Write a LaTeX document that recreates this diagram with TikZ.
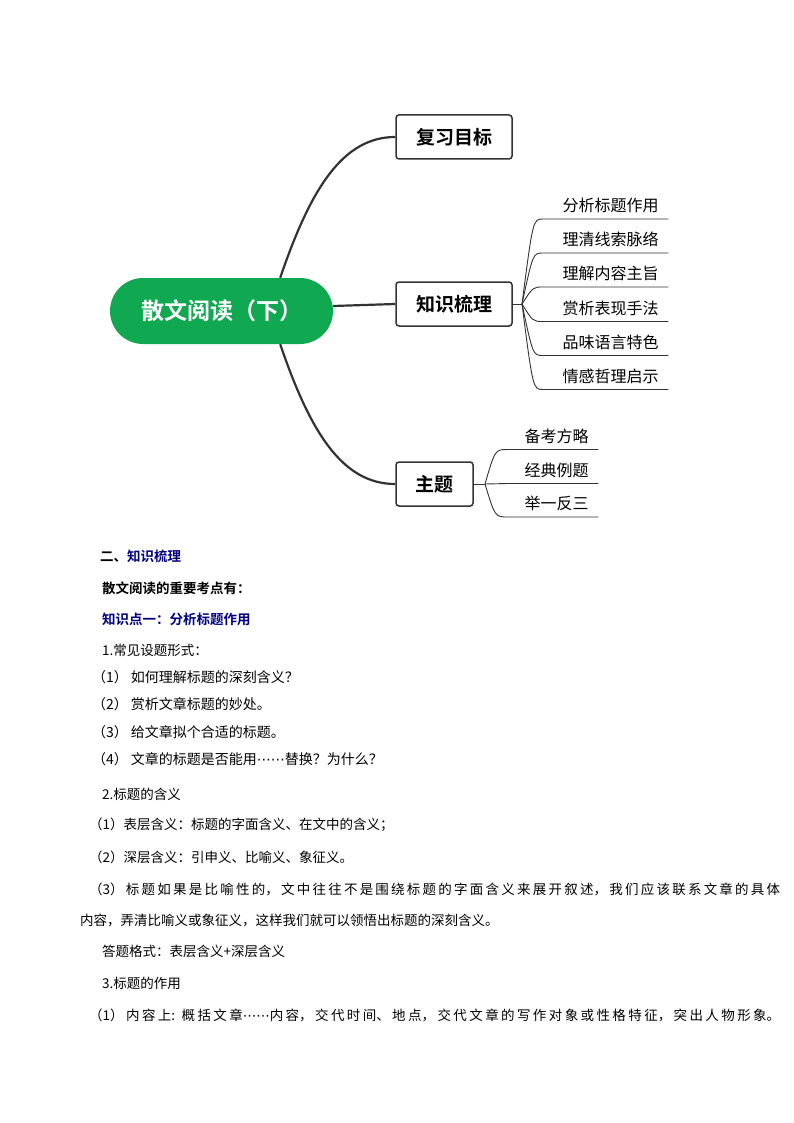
\documentclass[tikz,border=0pt]{standalone}
\usepackage{fontspec}
\setmainfont{Noto Sans CJK SC}[BoldFont={Noto Sans CJK SC Bold}]
\newfontfamily\dotfont{DejaVu Sans}
\newcommand{\cjkdots}{{\dotfont ⋯⋯}}
\XeTeXlinebreaklocale "zh"
\XeTeXlinebreakskip=0pt plus 3pt
\definecolor{rootgreen}{RGB}{16,168,80}
\definecolor{headblue}{RGB}{0,0,128}
\definecolor{inkgray}{RGB}{51,51,51}
\tikzset{
	topic/.style={draw=inkgray, line width=1.5pt, rounded corners=3pt, fill=white, minimum height=44pt, inner xsep=0pt, font=\fontsize{19}{22}\selectfont\bfseries},
	limb/.style={draw=inkgray, line width=2.2pt},
	twig/.style={draw=inkgray, line width=0.9pt},
	leaf/.style={anchor=south west, inner xsep=0pt, inner ysep=4pt, text height=14pt, text depth=3pt, font=\fontsize{16}{19}\selectfont},
	para/.style={anchor=west, inner sep=0pt, font=\fontsize{13.5}{16}\selectfont},
	parab/.style={para, font=\fontsize{13.5}{16}\selectfont\bfseries},
	parac/.style={para, font=\fontsize{14}{16}\selectfont},
}
\begin{document}
\begin{tikzpicture}[x=1pt, y=-1pt]
		\fill[white] (0,0) rectangle (794,1123);
		\useasboundingbox (0,0) rectangle (794,1123);
		
		% mind map
		\node[fill=rootgreen, rounded corners=33pt, minimum width=223pt, minimum height=66pt, text=white, font=\fontsize{23}{26}\selectfont\bfseries] (root) at (221.5,311) {散文阅读（下）};
		\node[topic, minimum width=116pt] (goal) at (454,137) {复习目标};
		\node[topic, minimum width=116pt] (sort) at (454,304) {知识梳理};
		\node[topic, minimum width=77pt] (theme) at (434.5,484) {主题};
		
		\draw[limb] ([xshift=-53pt]root.north east) .. controls +(30,-88) and +(-53,0) .. (goal.west);
		\draw[limb] ([yshift=5pt]root.east) -- (sort.west);
		\draw[limb] ([xshift=-53pt]root.south east) .. controls +(30,88) and +(-53,0) .. (theme.west);
		
		\coordinate (kj) at (522,304);
		\coordinate (kc) at (533,304);
		\node[leaf, minimum width=125pt] (k1) at (543,219) {\hspace*{10pt}分析标题作用};
		\node[leaf, minimum width=125pt] (k2) at (543,253) {\hspace*{10pt}理清线索脉络};
		\node[leaf, minimum width=125pt] (k3) at (543,287) {\hspace*{10pt}理解内容主旨};
		\node[leaf, minimum width=125pt] (k4) at (543,321.5) {\hspace*{10pt}赏析表现手法};
		\node[leaf, minimum width=125pt] (k5) at (543,355.5) {\hspace*{10pt}品味语言特色};
		\node[leaf, minimum width=125pt] (k6) at (543,389.5) {\hspace*{10pt}情感哲理启示};
		
		\draw[twig] (sort.east) -- (kj);
		\draw[twig] (kj) .. controls (kc |- k1.south west) .. (k1.south west) -- (k1.south east);
		\draw[twig] (kj) .. controls (kc |- k2.south west) .. (k2.south west) -- (k2.south east);
		\draw[twig] (kj) .. controls (kc |- k3.south west) .. (k3.south west) -- (k3.south east);
		\draw[twig] (kj) .. controls (kc |- k4.south west) .. (k4.south west) -- (k4.south east);
		\draw[twig] (kj) .. controls (kc |- k5.south west) .. (k5.south west) -- (k5.south east);
		\draw[twig] (kj) .. controls (kc |- k6.south west) .. (k6.south west) -- (k6.south east);
		
		\coordinate (tj) at (485,484);
		\coordinate (tc) at (495,484);
		\node[leaf, minimum width=90pt] (t1) at (508,449.5) {\hspace*{7pt}备考方略};
		\node[leaf, minimum width=90pt] (t2) at (508,483.5) {\hspace*{7pt}经典例题};
		\node[leaf, minimum width=90pt] (t3) at (508,517) {\hspace*{7pt}举一反三};
		
		\draw[twig] (theme.east) -- (tj);
		\draw[twig] (tj) .. controls (tc |- t1.south west) .. (t1.south west) -- (t1.south east);
		\draw[twig] (tj) -- (t2.south west) -- (t2.south east);
		\draw[twig] (tj) .. controls (tc |- t3.south west) .. (t3.south west) -- (t3.south east);
		
		% text below
		\node[parab] (h1) at (100,556) {二、\textcolor{headblue}{知识梳理}};
		\node[parab] (h2) at (102,588) {散文阅读的重要考点有：};
		\node[parab, text=headblue] (h3) at (102,619) {知识点一：分析标题作用};
		\node[para] (a0) at (102,650) {1.常见设题形式：};
		\node[parac] (a1) at (92,677) {（1）\hspace{3pt}如何理解标题的深刻含义？};
		\node[parac] (a2) at (92,704) {（2）\hspace{3pt}赏析文章标题的妙处。};
		\node[parac] (a3) at (92,732) {（3）\hspace{3pt}给文章拟个合适的标题。};
		\node[parac] (a4) at (92,759) {（4）\hspace{3pt}文章的标题是否能用\cjkdots 替换？为什么？};
		\node[para] (b0) at (102,794) {2.标题的含义};
		\node[para] (b1) at (89,825) {（1）表层含义：标题的字面含义、在文中的含义；};
		\node[para] (b2) at (89,857) {（2）深层含义：引申义、比喻义、象征义。};
		\node[para, text width=700pt, align=justify, font=\fontsize{13.5}{31}\selectfont] (b3) at (80,904.5) {\noindent\hspace*{9pt}（3）标题如果是比喻性的，文中往往不是围绕标题的字面含义来展开叙述，我们应该联系文章的具体\linebreak 内容，弄清比喻义或象征义，这样我们就可以领悟出标题的深刻含义。};
		\node[para] (b4) at (102,951) {答题格式：表层含义+深层含义};
		\node[para] (c0) at (102,983) {3.标题的作用};
		\node[para, text width=691pt, align=justify] (c1) at (89,1015) {\noindent\parfillskip=0pt （1）内容上: 概括文章\cjkdots 内容，交代时间、地点，交代文章的写作对象或性格特征，突出人物形象。\par};
	\end{tikzpicture}
\end{document}
